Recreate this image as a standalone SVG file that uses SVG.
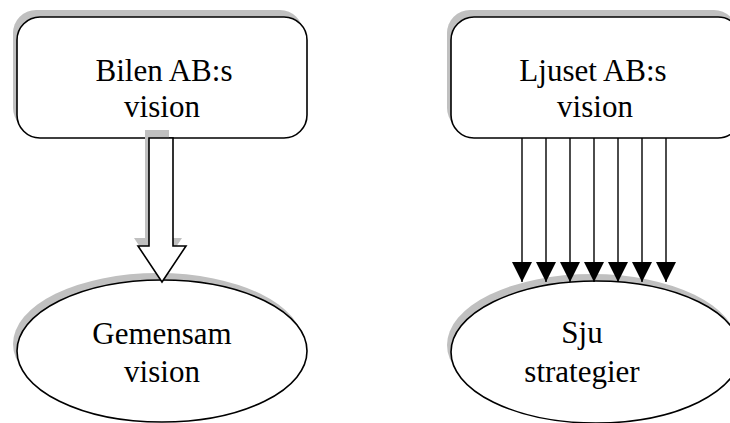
<svg xmlns="http://www.w3.org/2000/svg" width="730" height="423" viewBox="0 0 730 423">
<style>
.shadow{fill:#c0c0c0;stroke:none}
.shape{fill:#fff;stroke:#000;stroke-width:1.6}
.lbl{font-size:31px;fill:#000;text-anchor:middle}
.conn{stroke:#000;stroke-width:1.4;fill:none}
</style>
<defs>
<marker id="ah" viewBox="0 0 20 20" refX="20" refY="10" markerWidth="20" markerHeight="20" markerUnits="userSpaceOnUse" orient="auto">
<path d="M0,0 L20,10 L0,20 Z" fill="#000"/>
</marker>
</defs>
<rect width="730" height="423" fill="#fff"/>
<g font-family="'Liberation Serif', 'DejaVu Serif', serif">
<g id="node-bilen">
<rect class="shadow" x="13" y="10" width="290" height="121" rx="23" ry="23"/>
<rect class="shape" x="17" y="17" width="290" height="121" rx="23" ry="23"/>
<text class="lbl" x="164" y="81">Bilen AB:s</text>
<text class="lbl" x="162" y="117">vision</text>
</g>
<g id="node-ljuset">
<rect class="shadow" x="447" y="10" width="290" height="121" rx="23" ry="23"/>
<rect class="shape" x="451" y="17" width="290" height="121" rx="23" ry="23"/>
<text class="lbl" x="593" y="81">Ljuset AB:s</text>
<text class="lbl" x="595" y="117">vision</text>
</g>
<g id="node-gemensam">
<ellipse class="shadow" cx="158" cy="344" rx="145" ry="71"/>
<ellipse class="shape" cx="162" cy="351" rx="145" ry="71"/>
<text class="lbl" x="162" y="344">Gemensam</text>
<text class="lbl" x="162" y="382">vision</text>
</g>
<g id="node-sju">
<ellipse class="shadow" cx="592" cy="345" rx="145" ry="71"/>
<ellipse class="shape" cx="596" cy="352" rx="145" ry="71"/>
<text class="lbl" x="582" y="343">Sju</text>
<text class="lbl" x="582" y="382">strategier</text>
</g>
</g>
<g id="connectors">
<path class="shadow" d="M145,130 L169,130 L169,238 L182,238 L158,274 L134,238 L145,238 Z"/>
<path class="shape" d="M149,138 L173,138 L173,246 L186,246 L162,282 L138,246 L149,246 Z"/>
<line class="conn" x1="522" y1="138" x2="522" y2="282" marker-end="url(#ah)"/>
<line class="conn" x1="546" y1="138" x2="546" y2="282" marker-end="url(#ah)"/>
<line class="conn" x1="570" y1="138" x2="570" y2="282" marker-end="url(#ah)"/>
<line class="conn" x1="594" y1="138" x2="594" y2="282" marker-end="url(#ah)"/>
<line class="conn" x1="618" y1="138" x2="618" y2="282" marker-end="url(#ah)"/>
<line class="conn" x1="642" y1="138" x2="642" y2="282" marker-end="url(#ah)"/>
<line class="conn" x1="666" y1="138" x2="666" y2="282" marker-end="url(#ah)"/>
</g>
</svg>
